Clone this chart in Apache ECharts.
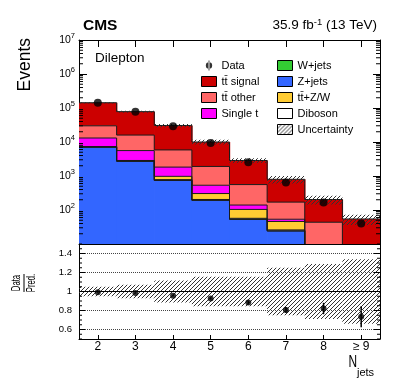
<!DOCTYPE html>
<html>
<head>
<meta charset="utf-8">
<script src="https://cdn.jsdelivr.net/npm/echarts@6/dist/echarts.min.js"></script>
<style>
  html, body { margin: 0; padding: 0; background: #fff; }
  #chart { width: 399px; height: 383px; }
</style>
</head>
<body>
<div id="chart"></div>
<script>
// jet multiplicity bins
const nJets = ['2', '3', '4', '5', '6', '7', '8', '≥ 9'];

// stacked MC components, bottom to top
const zJets     = [7000, 2700, 740, 192, 53, 24, 6, 2];
const wJets     = [100, 40, 12, 4, 1, 0.5, 0.2, 0.1];
const diboson   = [150, 80, 30, 8, 3, 1.5, 0.5, 0.2];
const ttZW      = [60, 40, 195, 101, 47, 20, 2, 1];
const singleTop = [5800, 2730, 850, 230, 36, 7.5, 1, 0.5];
const ttOther   = [16800, 10400, 4020, 1375, 419, 117, 34, 4];
const ttSignal  = [113000, 62200, 24750, 8090, 2300, 629, 160, 46.7];

// data and relative uncertainty
const dataCounts = [141500, 77000, 29200, 9270, 2530, 645, 167, 40];
const relUnc     = [0.05, 0.07, 0.115, 0.155, 0.155, 0.25, 0.29, 0.34];

// ratio panel
const ratio    = [0.991, 0.984, 0.955, 0.927, 0.884, 0.806, 0.821, 0.735];
const ratioErr = [0.004, 0.006, 0.008, 0.012, 0.02, 0.03, 0.06, 0.11];

// axis tick values
const logMinorTicks = [];
for (let e = 1; e <= 6; e++) {
  for (let k = 2; k <= 9; k++) logMinorTicks.push(k * Math.pow(10, e));
}
const ratioMajorTicks = [0.6, 0.8, 1.0, 1.2, 1.4];
const ratioMinorTicks = [0.5, 0.55, 0.65, 0.7, 0.75, 0.85, 0.9, 0.95, 1.05, 1.1, 1.15, 1.25, 1.3, 1.35, 1.45, 1.5];
const ratioGridLines = [0.6, 0.8, 1.2, 1.4];

const FONT = '"Liberation Sans", Arial, Helvetica, sans-serif';
const Y_MIN = 10, Y_MAX = 1e7;

// hatch pattern "////"
const hatch = document.createElement('canvas');
hatch.width = 4; hatch.height = 4;
const hctx = hatch.getContext('2d');
hctx.strokeStyle = '#333';
hctx.lineWidth = 1;
hctx.beginPath();
hctx.moveTo(0, 4); hctx.lineTo(4, 0);
hctx.moveTo(-1, 1); hctx.lineTo(1, -1);
hctx.moveTo(3, 5); hctx.lineTo(5, 3);
hctx.stroke();
const hatchFill = { image: hatch, repeat: 'repeat' };

const layers = [
  { name: 'Z+jets', values: zJets, color: '#3366ff' },
  { name: 'W+jets', values: wJets, color: '#33cc33' },
  { name: 'Diboson', values: diboson, color: '#ffffff' },
  { name: 'tt̄+Z/W', values: ttZW, color: '#ffcc33' },
  { name: 'Single t', values: singleTop, color: '#ff00ff' },
  { name: 'tt̄ other', values: ttOther, color: '#ff6666' },
  { name: 'tt̄ signal', values: ttSignal, color: '#cc0000' }
];

// cumulative stack
let running = nJets.map(() => 0);
layers.forEach(layer => {
  layer.lower = running.slice();
  running = running.map((v, i) => v + layer.values[i]);
  layer.upper = running.slice();
});
const total = running;

const stackRender = layer => (params, api) => {
  const i = api.value(0);
  const lo = Math.max(api.value(1), Y_MIN);
  const hi = api.value(2);
  if (hi <= Y_MIN) return;
  const w = api.size([1, 0])[0];
  const pLo = api.coord([i, lo]);
  const pHi = api.coord([i, hi]);
  const x0 = pLo[0] - w / 2, x1 = pLo[0] + w / 2;
  const last = i === nJets.length - 1;
  const pts = [[x0, pHi[1]], [x1, pHi[1]]];
  if (!last) {
    const next = Math.max(layer.upper[i + 1], Y_MIN);
    pts.push([x1, api.coord([i + 1, next])[1]]);
  }
  return {
    type: 'group',
    children: [
      // small overlap so neighbouring bins leave no seam
      { type: 'rect', z2: 0, shape: { x: x0, y: pHi[1], width: w + (last ? 0 : 0.7), height: pLo[1] - pHi[1] }, style: { fill: layer.color } },
      { type: 'polyline', z2: 10, shape: { points: pts }, style: { stroke: '#1a1a1a', lineWidth: 1, fill: null } }
    ]
  };
};

const bandRender = (params, api) => {
  const i = api.value(0);
  const w = api.size([1, 0])[0];
  const pLo = api.coord([i, api.value(1)]);
  const pHi = api.coord([i, api.value(2)]);
  return {
    type: 'rect',
    shape: { x: pLo[0] - w / 2, y: pHi[1], width: w, height: pLo[1] - pHi[1] },
    style: { fill: hatchFill }
  };
};

const errRender = (params, api) => {
  const i = api.value(0);
  const a = api.coord([i, api.value(1)]);
  const b = api.coord([i, api.value(2)]);
  return { type: 'line', shape: { x1: a[0], y1: a[1], x2: b[0], y2: b[1] }, style: { stroke: '#000', lineWidth: 1.5 } };
};

// y ticks on both sides of a grid
const tickRender = (params, api) => {
  const cs = params.coordSys;
  const y = api.coord([0, api.value(1)])[1];
  const len = api.value(2);
  return {
    type: 'group',
    children: [
      { type: 'line', shape: { x1: cs.x, y1: y, x2: cs.x + len, y2: y }, style: { stroke: '#000', lineWidth: 1 } },
      { type: 'line', shape: { x1: cs.x + cs.width, y1: y, x2: cs.x + cs.width - len, y2: y }, style: { stroke: '#000', lineWidth: 1 } }
    ]
  };
};

const series = [];
layers.forEach(layer => {
  series.push({
    type: 'custom', name: layer.name, xAxisIndex: 0, yAxisIndex: 0, z: 2,
    itemStyle: { color: layer.color },
    renderItem: stackRender(layer),
    data: nJets.map((c, i) => [i, layer.lower[i], layer.upper[i]]),
    silent: true
  });
});
series.push({
  type: 'custom', name: 'Uncertainty', xAxisIndex: 0, yAxisIndex: 0, z: 3,
  itemStyle: { color: hatchFill },
  renderItem: bandRender,
  data: total.map((t, i) => [i, t * (1 - relUnc[i]), t * (1 + relUnc[i])]),
  silent: true
});
series.push({
  type: 'scatter', name: 'Data', xAxisIndex: 0, yAxisIndex: 0, z: 5,
  symbol: 'circle', symbolSize: 8, itemStyle: { color: '#000' },
  data: dataCounts.map((v, i) => [i, v]),
  silent: true
});
series.push({
  type: 'custom', name: 'logTicks', xAxisIndex: 0, yAxisIndex: 0, z: 6,
  renderItem: tickRender,
  data: logMinorTicks.map(v => [0, v, 4]),
  silent: true
});

// ratio panel
series.push({
  type: 'custom', name: 'ratioBand', xAxisIndex: 2, yAxisIndex: 2, z: 3,
  renderItem: bandRender,
  data: relUnc.map((u, i) => [i, 1 - u, 1 + u]),
  silent: true
});
series.push({
  type: 'custom', name: 'ratioErr', xAxisIndex: 2, yAxisIndex: 2, z: 4,
  renderItem: errRender,
  data: ratio.map((r, i) => [i, r - ratioErr[i], r + ratioErr[i]]),
  silent: true
});
series.push({
  type: 'scatter', name: 'ratio', xAxisIndex: 2, yAxisIndex: 2, z: 5,
  symbol: 'circle', symbolSize: 6, itemStyle: { color: '#000' },
  data: ratio.map((r, i) => [i, r]),
  silent: true,
  markLine: {
    silent: true, symbol: 'none', label: { show: false },
    data: ratioGridLines.map(v => ({ yAxis: v, lineStyle: { type: 'dotted', color: '#444', width: 1 } }))
      .concat([{ yAxis: 1, lineStyle: { type: 'solid', color: '#000', width: 1 } }])
  }
});
series.push({
  type: 'custom', name: 'ratioTicks', xAxisIndex: 2, yAxisIndex: 2, z: 6,
  renderItem: tickRender,
  data: ratioMajorTicks.map(v => [0, v, 6]).concat(ratioMinorTicks.map(v => [0, v, 3])),
  silent: true
});

const axisLine = { show: true, onZero: false, lineStyle: { color: '#000', width: 1 } };
const xTick = len => ({ show: true, inside: true, alignWithLabel: true, length: len, lineStyle: { color: '#000' } });

const option = {
  animation: false,
  grid: [
    { left: 79, top: 40, width: 301, height: 204 },
    { left: 79, top: 244, width: 301, height: 95 }
  ],
  xAxis: [
    { gridIndex: 0, type: 'category', data: nJets, position: 'bottom', axisLine, axisTick: xTick(7), axisLabel: { show: false }, splitLine: { show: false } },
    { gridIndex: 0, type: 'category', data: nJets, position: 'top', axisLine, axisTick: xTick(7), axisLabel: { show: false }, splitLine: { show: false } },
    { gridIndex: 1, type: 'category', data: nJets, position: 'bottom', axisLine, axisTick: xTick(4),
      axisLabel: { show: true, margin: 2, fontFamily: FONT, fontSize: 12, color: '#000' }, splitLine: { show: false } }
  ],
  yAxis: [
    { gridIndex: 0, type: 'log', logBase: 10, min: Y_MIN, max: Y_MAX, position: 'left', axisLine,
      axisTick: { show: true, inside: true, length: 8, lineStyle: { color: '#000' } },
      splitLine: { show: false },
      axisLabel: {
        margin: 4, color: '#000',
        formatter: v => {
          const e = Math.round(Math.log10(v));
          return e < 2 ? '' : '{b|10}{s|' + e + '}';
        },
        rich: {
          b: { fontFamily: FONT, fontSize: 10.5, color: '#000', lineHeight: 12 },
          s: { fontFamily: FONT, fontSize: 7.5, color: '#000', lineHeight: 12, padding: [0, 0, 8, 0] }
        }
      }
    },
    { gridIndex: 0, type: 'log', logBase: 10, min: Y_MIN, max: Y_MAX, position: 'right', axisLine,
      axisTick: { show: true, inside: true, length: 7, lineStyle: { color: '#000' } },
      axisLabel: { show: false }, splitLine: { show: false } },
    { gridIndex: 1, type: 'value', min: 0.5, max: 1.5, interval: 0.1, position: 'left', axisLine,
      axisTick: { show: false }, splitLine: { show: false },
      axisLabel: {
        margin: 7, fontFamily: FONT, fontSize: 9.5, color: '#000',
        formatter: v => {
          const r = Math.round(v * 10);
          return (r % 2 === 0 && r >= 6 && r <= 14) ? String(r / 10) : '';
        }
      }
    },
    { gridIndex: 1, type: 'value', min: 0.5, max: 1.5, interval: 0.1, position: 'right', axisLine,
      axisTick: { show: false }, axisLabel: { show: false }, splitLine: { show: false } }
  ],
  legend: [
    { left: 201, top: 60, padding: 0, orient: 'vertical', itemWidth: 15, itemHeight: 10, itemGap: 5,
      selectedMode: false, icon: 'rect',
      itemStyle: { borderColor: '#000', borderWidth: 1 },
      textStyle: { fontFamily: FONT, fontSize: 11, color: '#000' },
      data: [
        { name: 'Data', icon: 'path://M4,0h1v11h-1z M4.5,2a3.5,3.5 0 1,0 0.001,0z', itemStyle: { color: '#000', borderWidth: 0 } },
        'tt̄ signal', 'tt̄ other', 'Single t'
      ]
    },
    { left: 277, top: 60, padding: 0, orient: 'vertical', itemWidth: 15, itemHeight: 10, itemGap: 5,
      selectedMode: false, icon: 'rect',
      itemStyle: { borderColor: '#000', borderWidth: 1 },
      textStyle: { fontFamily: FONT, fontSize: 11, color: '#000' },
      data: ['W+jets', 'Z+jets', 'tt̄+Z/W', 'Diboson', 'Uncertainty']
    }
  ],
  graphic: [
    { type: 'text', x: 83, y: 34, style: { text: 'CMS', font: 'bold 15.5px ' + FONT, fill: '#000', verticalAlign: 'bottom' } },
    { type: 'text', x: 377, y: 34, style: {
        text: '35.9 fb{sup|-1} (13 TeV)', font: '13.5px ' + FONT, fill: '#000', align: 'right', verticalAlign: 'bottom',
        rich: { sup: { font: '9.5px ' + FONT, fill: '#000', padding: [0, 0, 7, 0] } }
      } },
    { type: 'text', x: 95, y: 58, style: { text: 'Dilepton', font: '13.5px ' + FONT, fill: '#000', verticalAlign: 'middle' } },
    { type: 'text', x: 25, y: 38, rotation: Math.PI / 2, style: { text: 'Events', font: '17.5px ' + FONT, fill: '#000', align: 'right', verticalAlign: 'middle' } },
    { type: 'group', x: 24, y: 283, rotation: Math.PI / 2, children: [
        { type: 'text', x: 0, y: -1, scaleX: 0.62, style: { text: 'Data', font: '12.5px ' + FONT, fill: '#000', align: 'center', verticalAlign: 'bottom' } },
        { type: 'line', shape: { x1: -9, y1: 0, x2: 9, y2: 0 }, style: { stroke: '#000', lineWidth: 1 } },
        { type: 'text', x: 0, y: 1, scaleX: 0.62, style: { text: 'Pred.', font: '12.5px ' + FONT, fill: '#000', align: 'center', verticalAlign: 'top' } }
      ] },
    { type: 'text', x: 357, y: 371, scaleX: 0.7, style: { text: 'N', font: '17px ' + FONT, fill: '#000', align: 'right', verticalAlign: 'bottom' } },
    { type: 'text', x: 357, y: 378, style: { text: 'jets', font: '11px ' + FONT, fill: '#000', align: 'left', verticalAlign: 'bottom' } }
  ],
  series
};

const chart = echarts.init(document.getElementById('chart'), null, { renderer: 'canvas' });
chart.setOption(option);
</script>
</body>
</html>
